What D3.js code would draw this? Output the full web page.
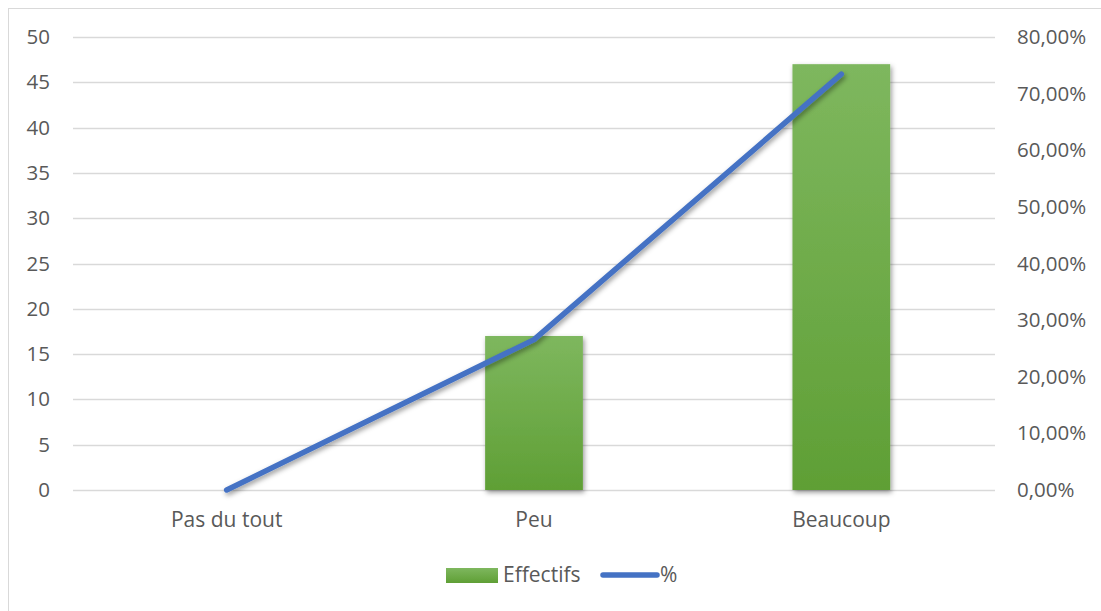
<!DOCTYPE html>
<html>
<head>
<meta charset="utf-8">
<script src="https://cdn.jsdelivr.net/npm/d3@7"></script>
<style>
  html, body { margin: 0; padding: 0; background: #ffffff; }
  svg { display: block; font-family: "Open Sans", sans-serif; }
</style>
</head>
<body>
<svg id="chart" width="1101" height="611"></svg>
<script>
// Réponses et effectifs
const categories = ["Pas du tout", "Peu", "Beaucoup"];
const effectifs = [0, 17, 47];
const pourcentages = [0.0, 0.2656, 0.7344];
const leftTicks = [0, 5, 10, 15, 20, 25, 30, 35, 40, 45, 50];
const rightTicks = [0, 0.1, 0.2, 0.3, 0.4, 0.5, 0.6, 0.7, 0.8];
const seriesNames = ["Effectifs", "%"];

const svg = d3.select("#chart");
const W = 1101, H = 611;
const plot = { left: 73, right: 995, top: 37, bottom: 490 };
const textColor = "#595959";
const gridColor = "#d9d9d9";
const lineColor = "#4472c4";
const axisFont = "20.5px";
const labelFont = "21px";

// Filters and gradients
const defs = svg.append("defs");
const grad = defs.append("linearGradient").attr("id", "barGrad")
  .attr("x1", 0).attr("y1", 0).attr("x2", 0).attr("y2", 1);
grad.append("stop").attr("offset", "0%").attr("stop-color", "#7eb75e");
grad.append("stop").attr("offset", "100%").attr("stop-color", "#5f9f35");

const shadow = defs.append("filter").attr("id", "shadow")
  .attr("x", "-20%").attr("y", "-20%").attr("width", "140%").attr("height", "140%");
shadow.append("feDropShadow").attr("dx", 1.5).attr("dy", 2.5)
  .attr("stdDeviation", 2.4).attr("flood-color", "#000").attr("flood-opacity", 0.4);

// Chart area border
svg.append("rect")
  .attr("x", 8.5).attr("y", 8.5).attr("width", W + 20).attr("height", H + 20)
  .attr("fill", "none").attr("stroke", gridColor).attr("stroke-width", 1);

// Scales
const x = d3.scaleBand().domain(categories).range([plot.left, plot.right]).padding(0);
const yL = d3.scaleLinear().domain([0, 50]).range([plot.bottom, plot.top]);
const yR = d3.scaleLinear().domain([0, 0.8]).range([plot.bottom, plot.top]);

// Gridlines
svg.append("g").selectAll("line").data(leftTicks).join("line")
  .attr("x1", plot.left).attr("x2", plot.right)
  .attr("y1", d => Math.round(yL(d)) + 0.5).attr("y2", d => Math.round(yL(d)) + 0.5)
  .attr("stroke", gridColor).attr("stroke-width", 1.3);

// Left axis
const fmtL = d3.format("d");
const leftAxis = svg.append("g")
  .attr("transform", `translate(${plot.left},0)`)
  .call(d3.axisLeft(yL).tickValues(leftTicks).tickFormat(fmtL).tickSize(0).tickPadding(23));
leftAxis.select(".domain").remove();
leftAxis.selectAll("text").attr("fill", textColor).style("font-size", axisFont)
  .style("font-family", "'Open Sans', sans-serif");

// Right axis
const fmtR = d => d3.format(".2f")(d * 100).replace(".", ",") + "%";
const rightAxis = svg.append("g")
  .attr("transform", `translate(${plot.right},0)`)
  .call(d3.axisRight(yR).tickValues(rightTicks).tickFormat(fmtR).tickSize(0).tickPadding(22));
rightAxis.select(".domain").remove();
rightAxis.selectAll("text").attr("fill", textColor).style("font-size", axisFont)
  .style("font-family", "'Open Sans', sans-serif");

// Category axis
const bottomAxis = svg.append("g")
  .attr("transform", `translate(0,${plot.bottom})`)
  .call(d3.axisBottom(x).tickSize(0).tickPadding(22));
bottomAxis.select(".domain").remove();
bottomAxis.selectAll("text").attr("fill", textColor).style("font-size", labelFont)
  .style("font-family", "'Open Sans', sans-serif");

// Bars
const barW = x.bandwidth() * 0.318;
svg.append("g").selectAll("rect").data(categories.map((c, i) => ({ c, v: effectifs[i] })))
  .join("rect")
  .filter(d => d.v > 0)
  .attr("x", d => x(d.c) + x.bandwidth() / 2 - barW / 2)
  .attr("y", d => yL(d.v))
  .attr("width", barW)
  .attr("height", d => yL(0) - yL(d.v))
  .attr("fill", "url(#barGrad)")
  .attr("filter", "url(#shadow)");

// Percentage line
const line = d3.line()
  .x((d, i) => x(categories[i]) + x.bandwidth() / 2)
  .y(d => yR(d));
svg.append("path").datum(pourcentages)
  .attr("d", line)
  .attr("fill", "none")
  .attr("stroke", lineColor)
  .attr("stroke-width", 5.5)
  .attr("stroke-linecap", "round")
  .attr("stroke-linejoin", "round")
  .attr("filter", "url(#shadow)");

// Legend
const lg = svg.append("g").attr("transform", "translate(446,575)");
lg.append("rect").attr("x", 0).attr("y", -7).attr("width", 52).attr("height", 15)
  .attr("fill", "url(#barGrad)");
lg.append("text").attr("x", 57).attr("y", 0).attr("dy", "0.35em")
  .attr("fill", textColor).style("font-size", labelFont).text(seriesNames[0]);
lg.append("line").attr("x1", 157).attr("x2", 211).attr("y1", 0).attr("y2", 0)
  .attr("stroke", lineColor).attr("stroke-width", 5.5).attr("stroke-linecap", "round");
lg.append("text").attr("x", 214).attr("y", 0).attr("dy", "0.35em")
  .attr("fill", textColor).style("font-size", labelFont).text(seriesNames[1]);
</script>
</body>
</html>
